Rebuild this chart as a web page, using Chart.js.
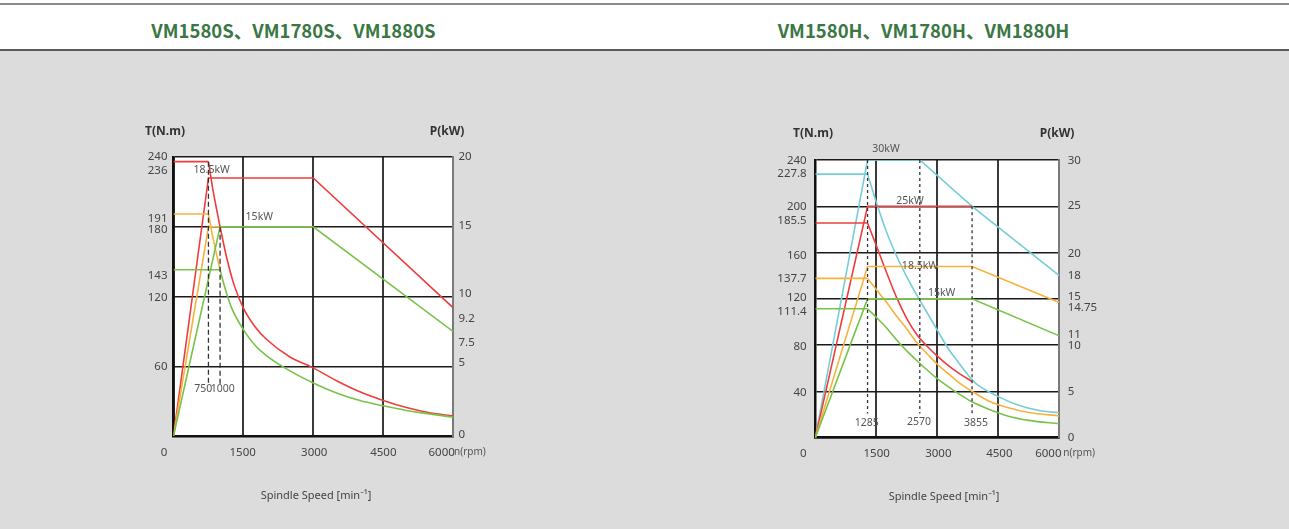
<!DOCTYPE html>
<html><head><meta charset="utf-8">
<script src="https://cdn.jsdelivr.net/npm/chart.js@4.4.0/dist/chart.umd.min.js"></script>
<style>
html,body{margin:0;padding:0;}
body{width:1289px;height:529px;background:#dcdcdc;position:relative;overflow:hidden;font-family:"Noto Sans",sans-serif;}
#hdr{position:absolute;left:0;top:0;width:1289px;height:51px;background:#fff;}
#hdr .t{position:absolute;top:3px;left:0;width:1289px;height:2px;background:#8c8c8c}
#hdr .b{position:absolute;top:49px;left:0;width:1289px;height:2px;background:#5a5a5a}
.title{position:absolute;top:17px;line-height:26px;font-family:"Noto Sans CJK SC",sans-serif;font-weight:700;font-size:18.5px;color:#3a7744;white-space:nowrap;transform:translateX(-50%)}
canvas{position:absolute;top:0}
</style></head>
<body>
<div id="hdr"><div class="t"></div><div class="b"></div>
<div class="title" style="left:293.5px">VM1580S、VM1780S、VM1880S</div>
<div class="title" style="left:923.5px">VM1580H、VM1780H、VM1880H</div>
</div>
<canvas id="cS" width="644" height="529" style="left:0"></canvas>
<canvas id="cH" width="645" height="529" style="left:644px"></canvas>
<script>
// ---------------- DATA: VM...S chart ----------------
const S_SPEED_TICKS  = [0, 1500, 3000, 4500, 6000];
const S_TORQUE_TICKS = [240, 236, 191, 180, 143, 120, 60];
const S_POWER_TICKS  = [20, 15, 10, 9.2, 7.5, 5, 0];

// red (18.5 kW)
const S_RED_T_RPM = [0, 750, 850, 1000, 1150, 1300, 1500, 1750, 2000, 2500, 3000, 3500, 4000, 4500, 5000, 5500, 6000];
const S_RED_T_NM  = [236, 236, 211, 180, 152, 130, 110, 94, 83, 68, 58.6, 47.5, 38, 30.6, 24.5, 20, 17.3];
const S_RED_P_RPM = [0, 750, 3000, 6000];
const S_RED_P_KW  = [0, 18.5, 18.5, 9.2];
// orange
const S_ORG_T_RPM = [0, 750, 850, 1000];
const S_ORG_T_NM  = [191, 191, 170, 143];
const S_ORG_P_RPM = [0, 750, 1000];
const S_ORG_P_KW  = [0, 15, 15];
// green (15 kW)
const S_GRN_T_RPM = [0, 1000, 1100, 1250, 1500, 1750, 2000, 2500, 3000, 3500, 4000, 4500, 5000, 5500, 6000];
const S_GRN_T_NM  = [143, 143, 128, 110, 91.5, 78, 69, 56, 45.6, 37, 30.5, 26, 22, 19, 16.2];
const S_GRN_P_RPM = [0, 1000, 3000, 6000];
const S_GRN_P_KW  = [0, 15, 15, 7.5];
// base-speed markers
const S_BASE_RPM   = [750, 1000];
const S_BASE_TOP   = [236, 180];
const S_BASE_LABEL = ['750', '1000'];
const S_POWER_NOTES = ['18.5kW', '15kW'];

// ---------------- DATA: VM...H chart ----------------
const H_SPEED_TICKS  = [0, 1500, 3000, 4500, 6000];
const H_TORQUE_TICKS = [240, 227.8, 200, 185.5, 160, 137.7, 120, 111.4, 80, 40];
const H_POWER_TICKS  = [30, 25, 20, 18, 15, 14.75, 11, 10, 5, 0];

// cyan (30 kW)
const H_CYN_T_RPM = [0, 1285, 1500, 1750, 2000, 2250, 2500, 2750, 3000, 3250, 3500, 3855, 4000, 4500, 5000, 5500, 6000];
const H_CYN_T_NM  = [227.8, 227.8, 203.5, 178, 157, 139, 123, 108, 93, 78, 66, 50, 45.5, 35.5, 28, 23.5, 21.5];
const H_CYN_P_RPM = [0, 1285, 2570, 3855, 6000];
const H_CYN_P_KW  = [0, 30, 30, 25, 17.5];
// red (25 kW)
const H_RED_T_RPM = [0, 1285, 1500, 1750, 2000, 2250, 2500, 2750, 3000, 3250, 3500, 3855];
const H_RED_T_NM  = [185.5, 185.5, 166, 143, 121, 103, 89, 79, 70.5, 63, 56.5, 48.5];
const H_RED_P_RPM = [0, 1285, 3855];
const H_RED_P_KW  = [0, 25, 25];
// orange (18.5 kW)
const H_ORG_T_RPM = [0, 1285, 1500, 1750, 2000, 2250, 2500, 2750, 3000, 3250, 3500, 3855, 4250, 4750, 5250, 6000];
const H_ORG_T_NM  = [137.7, 137.7, 128, 117, 105, 94, 82, 72.5, 63.5, 56, 48.5, 40, 32, 25.8, 21.8, 18.8];
const H_ORG_P_RPM = [0, 1285, 3855, 6000];
const H_ORG_P_KW  = [0, 18.5, 18.5, 14.6];
// green (15 kW)
const H_GRN_T_RPM = [0, 1285, 1500, 1750, 2000, 2250, 2500, 2750, 3000, 3250, 3500, 3855, 4250, 4750, 5250, 6000];
const H_GRN_T_NM  = [111.4, 111.4, 104, 95, 84.5, 75, 66.5, 58.5, 51, 44.5, 38.5, 31, 24.8, 18.6, 15, 12];
const H_GRN_P_RPM = [0, 1285, 3855, 6000];
const H_GRN_P_KW  = [0, 15, 15, 11];
// base-speed markers
const H_BASE_RPM   = [1285, 2570, 3855];
const H_BASE_TOP   = [240, 240, 200];
const H_BASE_LABEL = ['1285', '2570', '3855'];
const H_POWER_NOTES = ['30kW', '25kW', '18.5kW', '15kW'];

// ---------------- STYLE ----------------
const RED = '#f03c3c', ORG = '#f7b23e', GRN = '#78c24a', CYN = '#76cdd8';
const FONT = '"Noto Sans", sans-serif';
const TXT = '#444';

function pts(xs, ys, from, to) {
  const out = [];
  for (let i = from; i <= to; i++) out.push({x: xs[i], y: ys[i]});
  return out;
}
function straight(xs, ys, color, axis) {
  return {data: pts(xs, ys, 0, xs.length - 1), borderColor: color, yAxisID: axis, tension: 0, borderWidth: 1.6};
}
function flatThenCurve(xs, ys, color, axis) {
  return [
    {data: pts(xs, ys, 0, 1), borderColor: color, yAxisID: axis, tension: 0, borderWidth: 1.6},
    {data: pts(xs, ys, 1, xs.length - 1), borderColor: color, yAxisID: axis, cubicInterpolationMode: 'monotone', borderWidth: 1.6}
  ];
}
function markers(rpms, tops, bottom, dash) {
  return rpms.map((r, i) => ({data: [{x: r, y: tops[i]}, {x: r, y: bottom}], borderColor: '#333', borderWidth: 1.3,
    borderDash: dash, yAxisID: 'y', tension: 0}));
}

const bgPlugin = {
  id: 'plotbg',
  beforeDraw(chart) {
    const a = chart.chartArea, ctx = chart.ctx;
    ctx.save(); ctx.fillStyle = '#fff';
    ctx.fillRect(a.left, a.top, a.right - a.left, a.bottom - a.top);
    ctx.restore();
  }
};

function text(ctx, s, x, y, font, color, align) {
  ctx.font = font; ctx.fillStyle = color; ctx.textAlign = align || 'center'; ctx.textBaseline = 'middle';
  ctx.fillText(s, x, y);
}

function makeLabelPlugin(L) {
  return {
    id: 'labels',
    afterDraw(chart) {
      const ctx = chart.ctx, a = chart.chartArea, sx = chart.scales.x, sy = chart.scales.y, sp = chart.scales.p;
      ctx.save();
      const tf = L.tickSize + 'px ' + FONT;
      L.torqueTicks.forEach((v, i) => text(ctx, String(v), a.left - L.leftGap, sy.getPixelForValue(v) + (L.torqueNudge[i] || 0), tf, TXT, 'right'));
      L.powerTicks.forEach((v, i) => text(ctx, String(v), a.right + L.rightGap, sp.getPixelForValue(v) + (L.powerNudge[i] || 0), tf, TXT, 'left'));
      L.speedTicks.forEach((v, i) => text(ctx, String(v), sx.getPixelForValue(v) + (L.speedNudge[i] || 0), a.bottom + L.xGap, tf, TXT, 'center'));
      text(ctx, 'n(rpm)', a.right + L.rpmDx, a.bottom + L.xGap, '10px ' + FONT, '#555', 'left');
      text(ctx, 'T(N.m)', a.left + L.tDx, a.top + L.unitDy, 'bold 12px ' + FONT, '#333', 'center');
      text(ctx, 'P(kW)', a.right + L.pDx, a.top + L.unitDy, 'bold 12px ' + FONT, '#333', 'center');
      text(ctx, 'Spindle Speed [min\u207B\u00B9]', a.left + L.titleDx, a.bottom + L.titleDy, '11px ' + FONT, '#444', 'center');
      L.notes.forEach(n => text(ctx, n.t, sx.getPixelForValue(n.x), sy.getPixelForValue(n.y), '10.5px ' + FONT, '#555', 'center'));
      ctx.restore();
    }
  };
}

function axes(tMax, pMax, tGrid, pStep) {
  const zero = s => { if (s.isHorizontal()) s.height = 0; else s.width = 0; };
  return {
    x: {type: 'linear', min: 0, max: 6000, afterBuildTicks: s => { s.ticks = [0, 1500, 3000, 4500, 6000].map(v => ({value: v})); },
        ticks: {display: false}, afterFit: zero,
        grid: {drawTicks: false, color: c => (c.tick && c.tick.value === 6000) ? '#777' : '#3a3a3a', lineWidth: 2},
        border: {display: true, color: '#111', width: 2.5}},
    y: {type: 'linear', position: 'left', min: 0, max: tMax, afterBuildTicks: s => { s.ticks = tGrid.map(v => ({value: v})); },
        ticks: {display: false}, afterFit: zero,
        grid: {drawTicks: false, color: '#1a1a1a', lineWidth: 1.5},
        border: {display: true, color: '#111', width: 2.5}},
    p: {type: 'linear', position: 'right', min: 0, max: pMax, ticks: {display: false, stepSize: pStep}, afterFit: zero,
        grid: {display: false, drawTicks: false},
        border: {display: true, color: '#7a7a7a', width: 2}}
  };
}

function baseOpts(pad, scales) {
  return {
    responsive: false, animation: false, devicePixelRatio: 1,
    layout: {padding: pad},
    plugins: {legend: {display: false}, tooltip: {enabled: false}},
    elements: {point: {radius: 0}, line: {fill: false}},
    scales: scales
  };
}

// ---------- Chart S ----------
const sDatasets = [].concat(
  markers(S_BASE_RPM, S_BASE_TOP, 45, [5, 3]),
  flatThenCurve(S_GRN_T_RPM, S_GRN_T_NM, GRN, 'y'),
  [straight(S_GRN_P_RPM, S_GRN_P_KW, GRN, 'p')],
  flatThenCurve(S_ORG_T_RPM, S_ORG_T_NM, ORG, 'y'),
  [straight(S_ORG_P_RPM, S_ORG_P_KW, ORG, 'p')],
  flatThenCurve(S_RED_T_RPM, S_RED_T_NM, RED, 'y'),
  [straight(S_RED_P_RPM, S_RED_P_KW, RED, 'p')]
);
new Chart(document.getElementById('cS'), {
  type: 'line',
  data: {datasets: sDatasets},
  options: baseOpts({left: 173.5, right: 191, top: 157, bottom: 93}, axes(240, 20, [0, 60, 120, 180, 240], 5)),
  plugins: [bgPlugin, makeLabelPlugin({
    tickSize: 11.5, leftGap: 6, rightGap: 5.5, xGap: 16.3,
    torqueTicks: S_TORQUE_TICKS, torqueNudge: [0, 9, 4.3, 2.5, 6.2, 0.8, 0.8],
    powerTicks: S_POWER_TICKS, powerNudge: [0, -1.5, -3.2, 10.6, 11.3, -3.5, -1.3],
    speedTicks: S_SPEED_TICKS, speedNudge: [-9.5, -0.7, 1, 0.2, -11.3],
    rpmDx: 1, tDx: -8.5, pDx: -6, unitDy: -25, titleDx: 142.5, titleDy: 60,
    notes: [
      {t: S_POWER_NOTES[0], x: 820, y: 229}, {t: S_POWER_NOTES[1], x: 1842, y: 188},
      {t: S_BASE_LABEL[0], x: 640, y: 40.5}, {t: S_BASE_LABEL[1], x: 1057, y: 40.5}
    ]
  })]
});

// ---------- Chart H ----------
const hDatasets = [].concat(
  markers(H_BASE_RPM, H_BASE_TOP, 21, [3, 3]),
  flatThenCurve(H_GRN_T_RPM, H_GRN_T_NM, GRN, 'y'),
  [straight(H_GRN_P_RPM, H_GRN_P_KW, GRN, 'p')],
  flatThenCurve(H_ORG_T_RPM, H_ORG_T_NM, ORG, 'y'),
  [straight(H_ORG_P_RPM, H_ORG_P_KW, ORG, 'p')],
  flatThenCurve(H_RED_T_RPM, H_RED_T_NM, RED, 'y'),
  [straight(H_RED_P_RPM, H_RED_P_KW, RED, 'p')],
  flatThenCurve(H_CYN_T_RPM, H_CYN_T_NM, CYN, 'y'),
  [straight(H_CYN_P_RPM, H_CYN_P_KW, CYN, 'p')]
);
new Chart(document.getElementById('cH'), {
  type: 'line',
  data: {datasets: hDatasets},
  options: baseOpts({left: 171.3, right: 229.7, top: 160, bottom: 91.3}, axes(240, 30, [0, 40, 80, 120, 160, 200, 240], 5)),
  plugins: [bgPlugin, makeLabelPlugin({
    tickSize: 11.5, leftGap: 8.6, rightGap: 8.4, xGap: 15.6,
    torqueTicks: H_TORQUE_TICKS, torqueNudge: [0.7, 0, 0, -2, 2.7, 0.6, -1.2, 3, 1.6, 1.3],
    powerTicks: H_POWER_TICKS, powerNudge: [0.7, -0.6, 1.4, 4.6, -1.9, 6.8, -0.9, 0.9, 0.6, 0],
    speedTicks: H_SPEED_TICKS, speedNudge: [-12, 0.4, 1, 1, -11],
    rpmDx: 4, tDx: -2.3, pDx: -2.3, unitDy: -26, titleDx: 128.7, titleDy: 59.3,
    notes: [
      {t: H_POWER_NOTES[0], x: 1739, y: 249.2}, {t: H_POWER_NOTES[1], x: 2329, y: 204.8},
      {t: H_POWER_NOTES[2], x: 2574, y: 148.6}, {t: H_POWER_NOTES[3], x: 3108, y: 125.3},
      {t: H_BASE_LABEL[0], x: 1264, y: 13}, {t: H_BASE_LABEL[1], x: 2550, y: 13.8}, {t: H_BASE_LABEL[2], x: 3952, y: 13}
    ]
  })]
});
</script>
</body></html>
